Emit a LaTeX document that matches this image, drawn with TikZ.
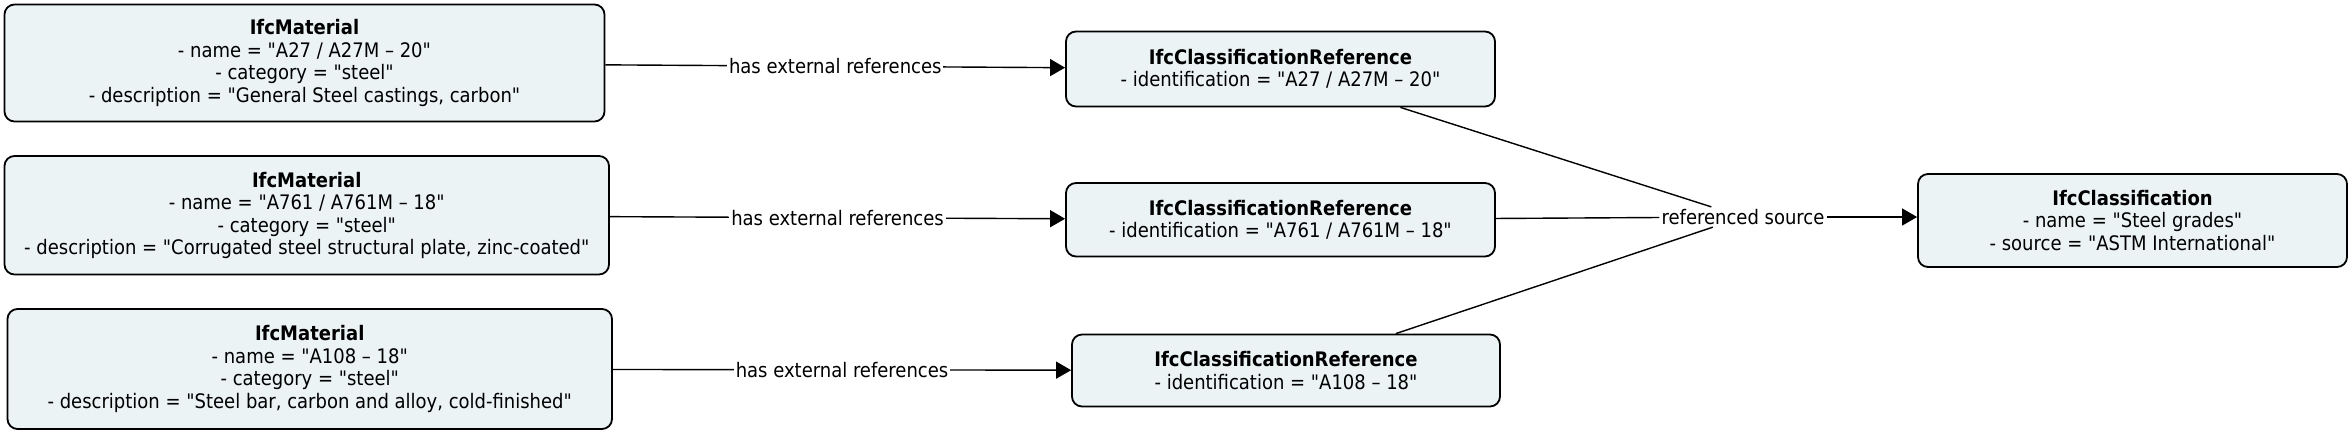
\documentclass[tikz,border=0pt]{standalone}
\usepackage{fontspec}
\newfontfamily\diagfont{DejaVu Sans Condensed}
\usepackage{tikz}
\usetikzlibrary{arrows.meta}

\definecolor{boxfill}{RGB}{235,243,245}

\begin{document}
\begin{tikzpicture}[x=0.5pt, y=-0.5pt,
    every node/.style={font=\diagfont\fontsize{10}{11.25}\selectfont},
    entity/.style={draw, line width=0.9pt, fill=boxfill, rounded corners=5pt, align=center, inner sep=0pt},
    link/.style={draw, line width=0.7pt},
    linklabel/.style={fill=white, inner sep=1pt},
    tip/.style={-{Triangle[length=7.5pt, width=8.5pt]}}]
  \useasboundingbox (0,0) rectangle (2351,435);
  % materials
  \node[entity, minimum width=300pt, minimum height=58.5pt] (mat1) at (304.5,63) {\textbf{IfcMaterial}\\- name = "A27 / A27M – 20"\\- category = "steel"\\- description = "General Steel castings, carbon"};
  \node[entity, minimum width=302.25pt, minimum height=59.25pt] (mat2) at (306.75,215.25) {\textbf{IfcMaterial}\\- name = "A761 / A761M – 18"\\- category = "steel"\\- description = "Corrugated steel structural plate, zinc-coated"};
  \node[entity, minimum width=302.25pt, minimum height=60pt] (mat3) at (309.75,369) {\textbf{IfcMaterial}\\- name = "A108 – 18"\\- category = "steel"\\- description = "Steel bar, carbon and alloy, cold-finished"};
  % classification references
  \node[entity, minimum width=214.5pt, minimum height=37.5pt] (ref1) at (1280.5,69) {\textbf{IfcClassificationReference}\\- identification = "A27 / A27M – 20"};
  \node[entity, minimum width=214.5pt, minimum height=36.75pt] (ref2) at (1280.5,219.75) {\textbf{IfcClassificationReference}\\- identification = "A761 / A761M – 18"};
  \node[entity, minimum width=214pt, minimum height=36pt] (ref3) at (1286,370.5) {\textbf{IfcClassificationReference}\\- identification = "A108 – 18"};
  % classification
  \node[entity, minimum width=214.5pt, minimum height=46.5pt] (cls) at (2132.5,220.5) {\textbf{IfcClassification}\\- name = "Steel grades"\\- source = "ASTM International"};
  \node[linklabel] (src) at (1743,217) {referenced source};
  % edges
  \draw[link, tip] (mat1) -- node[linklabel]{has external references} (ref1);
  \draw[link, tip] (mat2) -- node[linklabel]{has external references} (ref2);
  \draw[link, tip] (mat3) -- node[linklabel]{has external references} (ref3);
  \draw[link] (ref1) -- (src);
  \draw[link] (ref2) -- (src);
  \draw[link] (ref3) -- (src);
  \draw[link, tip] (src.east) -- (src.east -| cls.west);
\end{tikzpicture}
\end{document}
